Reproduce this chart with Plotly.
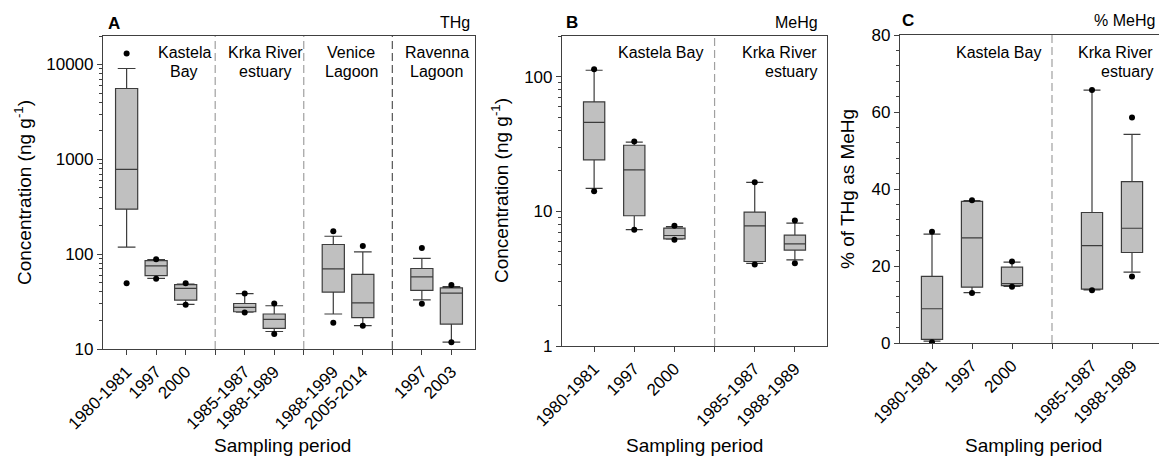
import plotly.graph_objects as go

# ---------------- data ----------------
# Panel A : THg (ng/g)
A_groups = ["Kastela Bay", "Krka River estuary", "Venice Lagoon", "Ravenna Lagoon"]
A_group_sizes = [3, 2, 2, 2]
A_periods = ["1980-1981", "1997", "2000", "1985-1987", "1988-1989",
             "1988-1999", "2005-2014", "1997", "2003"]
A_q1 = [298, 59.5, 32.8, 24.7, 16.5, 39.8, 21.4, 41.5, 18.3]
A_med = [785, 75.2, 43.5, 27.5, 20.5, 70.0, 30.7, 57.7, 38.8]
A_q3 = [5590, 85.5, 47.8, 30.2, 23.4, 126.5, 61.1, 70.6, 44.2]
A_lo = [118.6, 55.5, 29.5, 24.5, 15.3, 23.4, 17.6, 33.0, 11.8]
A_hi = [9080, 87.5, 48.5, 38.3, 28.6, 154.5, 105.7, 90.2, 45.5]
A_out_hi = [13060, 88.5, 49.3, 38.5, 30.2, 174.6, 122.0, 116.5, 47.2]
A_out_lo = [49.5, 55.0, 29.3, 24.3, 14.4, 18.9, 17.6, 30.0, 11.8]

# Panel B : MeHg (ng/g)
B_groups = ["Kastela Bay", "Krka River estuary"]
B_group_sizes = [3, 2]
B_periods = ["1980-1981", "1997", "2000", "1985-1987", "1988-1989"]
B_q1 = [24.1, 9.26, 6.25, 4.24, 5.15]
B_med = [45.7, 20.3, 6.61, 7.8, 5.73]
B_q3 = [64.9, 30.9, 7.5, 9.86, 6.65]
B_lo = [14.8, 7.3, 6.2, 4.1, 4.36]
B_hi = [111.4, 32.6, 7.7, 16.4, 8.17]
B_out_hi = [113.3, 32.9, 7.8, 16.4, 8.54]
B_out_lo = [14.1, 7.3, 6.14, 4.02, 4.12]

# Panel C : % of THg as MeHg
C_groups = ["Kastela Bay", "Krka River estuary"]
C_group_sizes = [3, 2]
C_periods = ["1980-1981", "1997", "2000", "1985-1987", "1988-1989"]
C_q1 = [0.96, 14.5, 14.9, 14.0, 23.5]
C_med = [8.9, 27.3, 15.4, 25.3, 29.8]
C_q3 = [17.3, 36.8, 19.7, 33.9, 41.9]
C_lo = [0.5, 13.1, 14.7, 13.8, 18.4]
C_hi = [28.3, 37.0, 21.0, 65.7, 54.2]
C_out_hi = [28.9, 37.1, 21.2, 65.7, 58.6]
C_out_lo = [0.18, 13.0, 14.6, 13.7, 17.3]

# ---------------- helpers ----------------
W, H = 1159, 456
FONT = "Liberation Sans, Arial, sans-serif"
AXC = "#404040"


def layout_positions(sizes):
    pos, dividers, p = [], [], 1
    for i, n in enumerate(sizes):
        for _ in range(n):
            pos.append(p)
            p += 1
        if i < len(sizes) - 1:
            dividers.append(p)
            p += 1
    return pos, dividers


def px(x):
    return x / W


def py(y):
    return 1 - y / H


fig = go.Figure()

panels = [
    dict(xa="x", ya="y", sizes=A_group_sizes, periods=A_periods, q1=A_q1, med=A_med, q3=A_q3,
         lo=A_lo, hi=A_hi, ohi=A_out_hi, olo=A_out_lo, width=0.75),
    dict(xa="x2", ya="y2", sizes=B_group_sizes, periods=B_periods, q1=B_q1, med=B_med, q3=B_q3,
         lo=B_lo, hi=B_hi, ohi=B_out_hi, olo=B_out_lo, width=0.53),
    dict(xa="x3", ya="y3", sizes=C_group_sizes, periods=C_periods, q1=C_q1, med=C_med, q3=C_q3,
         lo=C_lo, hi=C_hi, ohi=C_out_hi, olo=C_out_lo, width=0.53),
]

shapes = []
for k, pnl in enumerate(panels):
    pos, divs = layout_positions(pnl["sizes"])
    pnl["pos"], pnl["divs"] = pos, divs
    fig.add_trace(go.Box(
        x=pos, q1=pnl["q1"], median=pnl["med"], q3=pnl["q3"],
        lowerfence=pnl["lo"], upperfence=pnl["hi"],
        width=pnl["width"], whiskerwidth=0.8, boxpoints=False,
        fillcolor="#c0c0c0", line=dict(color="#3c3c3c", width=1.2),
        xaxis=pnl["xa"], yaxis=pnl["ya"], showlegend=False, hoverinfo="skip"))
    fig.add_trace(go.Scatter(
        x=pos + pos, y=pnl["ohi"] + pnl["olo"], mode="markers",
        marker=dict(color="black", size=6),
        xaxis=pnl["xa"], yaxis=pnl["ya"], showlegend=False, hoverinfo="skip"))
    for j, d in enumerate(divs):
        dark = (k == 0 and j == len(divs) - 1)
        shapes.append(dict(type="line", xref=pnl["xa"], yref=pnl["ya"] + " domain",
                           x0=d, x1=d, y0=0, y1=1,
                           line=dict(color="#555555" if dark else "#a0a0a0", width=1.2,
                                     dash="8px,4px")))

tickfont = dict(family=FONT, size=17, color="black")


def xaxis_cfg(pnl, domain, rng, anchor):
    return dict(domain=domain, range=rng, tickmode="array", tickvals=pnl["pos"],
                ticktext=pnl["periods"], tickangle=-45,
                ticks="outside", ticklen=5, tickcolor=AXC, tickfont=tickfont,
                minor=dict(tickmode="array", tickvals=pnl["divs"], ticks="outside",
                           ticklen=5, tickcolor=AXC, showgrid=False),
                showline=True, linecolor=AXC, linewidth=1.2, mirror=True,
                showgrid=False, zeroline=False, automargin=False, anchor=anchor)


fig.update_layout(
    width=W, height=H, margin=dict(l=0, r=0, t=0, b=0),
    plot_bgcolor="white", paper_bgcolor="white",
    font=dict(family=FONT, color="black"),
    shapes=shapes,
    xaxis=xaxis_cfg(panels[0], [px(103), px(475)], [0.2, 12.8], "y"),
    xaxis2=xaxis_cfg(panels[1], [px(562), px(827)], [0.2, 6.8], "y2"),
    xaxis3=xaxis_cfg(panels[2], [px(900), 1.0], [0.2, 6.675], "y3"),
    yaxis=dict(domain=[py(349), py(36)], type="log", range=[1, 4.301], dtick=1,
               tickformat="d",
               ticks="outside", ticklen=5, tickcolor=AXC, tickfont=tickfont,
               minor=dict(dtick="D1", ticks="outside", ticklen=3, tickcolor=AXC, showgrid=False),
               showline=True, linecolor=AXC, linewidth=1.2, mirror=True,
               showgrid=False, zeroline=False, automargin=False, anchor="x"),
    yaxis2=dict(domain=[py(346), py(36)], type="log", range=[0, 2.301], dtick=1,
                tickformat="d",
                ticks="outside", ticklen=5, tickcolor=AXC, tickfont=tickfont,
                minor=dict(dtick="D1", ticks="outside", ticklen=3, tickcolor=AXC, showgrid=False),
                showline=True, linecolor=AXC, linewidth=1.2, mirror=True,
                showgrid=False, zeroline=False, automargin=False, anchor="x2"),
    yaxis3=dict(domain=[py(343), py(35)], range=[0, 80], dtick=20,
                ticks="outside", ticklen=5, tickcolor=AXC, tickfont=tickfont,
                minor=dict(dtick=4, ticks="outside", ticklen=3, tickcolor=AXC, showgrid=False),
                showline=True, linecolor=AXC, linewidth=1.2, mirror=False,
                showgrid=False, zeroline=False, automargin=False, anchor="x3"),
)

ann = []


def txt(x, y, s, size=16, xanchor="center", bold=False, angle=0):
    ann.append(dict(xref="paper", yref="paper", x=px(x), y=py(y), text=("<b>%s</b>" % s) if bold else s,
                    showarrow=False, xanchor=xanchor, yanchor="middle", textangle=angle,
                    font=dict(family=FONT, size=size, color="black")))


# panel letters and titles
txt(114, 24, "A", size=17, bold=True)
txt(472, 22, "THg", xanchor="right")
txt(572, 22, "B", size=17, bold=True)
txt(820, 22, "MeHg", xanchor="right")
txt(908, 21, "C", size=17, bold=True)
txt(1157, 21, "% MeHg", xanchor="right")

# group labels
A_label_x = [184, 265, 351, 437]
for g, gx in zip(A_groups, A_label_x):
    w = g.rsplit(" ", 1)
    txt(gx, 53, w[0])
    txt(gx, 71, w[1])
txt(660, 53, B_groups[0])
w = B_groups[1].rsplit(" ", 1)
txt(819, 53, w[0], xanchor="right")
txt(819, 71, w[1], xanchor="right")
txt(998, 53, C_groups[0])
w = C_groups[1].rsplit(" ", 1)
txt(1155, 53, w[0], xanchor="right")
txt(1155, 71, w[1], xanchor="right")

# axis titles
txt(282, 445, "Sampling period", size=19)
txt(694, 445, "Sampling period", size=19)
txt(1033, 445, "Sampling period", size=19)
txt(23, 193, "Concentration (ng g<sup>-1</sup>)", size=19, angle=-90)
txt(500, 191, "Concentration (ng g<sup>-1</sup>)", size=19, angle=-90)
txt(847, 189, "% of THg as MeHg", size=19, angle=-90)

fig.update_layout(annotations=ann)
fig.write_html("out.html", config={"displayModeBar": False},
               post_script="document.body.style.margin='0';document.body.style.overflow='hidden';")
